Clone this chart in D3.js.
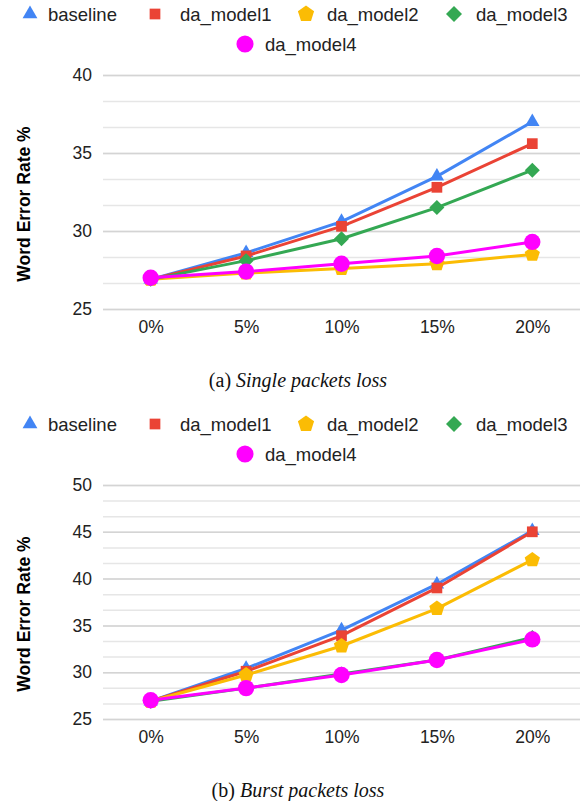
<!DOCTYPE html>
<html>
<head>
<meta charset="utf-8">
<script src="https://cdn.jsdelivr.net/npm/d3@7"></script>
<style>
  body { margin: 0; background: white; }
  text { font-family: "Liberation Sans", Arial, sans-serif; }
</style>
</head>
<body>
<div id="canvas"></div>
<script>
"use strict"

// DATA
let lossLevels = ["0%", "5%", "10%", "15%", "20%"];
let seriesNames = ["baseline", "da_model1", "da_model2", "da_model3", "da_model4"];

// (a) single packets loss
let singleBaseline = [26.9, 28.6, 30.6, 33.5, 37.0];
let singleModel1 = [26.9, 28.4, 30.3, 32.8, 35.6];
let singleModel2 = [26.9, 27.3, 27.6, 27.9, 28.5];
let singleModel3 = [26.9, 28.1, 29.5, 31.5, 33.9];
let singleModel4 = [27.0, 27.4, 27.9, 28.4, 29.3];

// (b) burst packets loss
let burstBaseline = [26.9, 30.4, 34.5, 39.4, 45.1];
let burstModel1 = [26.9, 30.1, 33.9, 39.0, 45.0];
let burstModel2 = [26.9, 29.7, 32.8, 36.8, 42.0];
let burstModel3 = [26.9, 28.3, 29.8, 31.3, 33.7];
let burstModel4 = [27.0, 28.3, 29.7, 31.3, 33.5];

let singleTicks = [25, 30, 35, 40];
let burstTicks = [25, 30, 35, 40, 45, 50];

/* Configuration variables: drawing */
let svgWidth = 586;
let svgHeight = 801;

let plotLeft = 103;
let plotRight = 580;

let colors = ["#4285f4", "#ea4335", "#fbbc04", "#34a853", "#ff00ff"];

let svg = d3.select("#canvas")
  .append("svg")
  .attr("width", svgWidth)
  .attr("height", svgHeight);

// pentagon path (d3 has no pentagon symbol)
function pentagon(r) {
  let pts = [];
  for (let i = 0; i < 5; i++) {
    let a = -Math.PI / 2 + i * 2 * Math.PI / 5;
    pts.push([r * Math.cos(a), r * Math.sin(a)]);
  }
  return "M" + pts.join("L") + "Z";
}

// square turned 45 degrees
function diamond(r) {
  return "M0," + (-r) + "L" + r + ",0L0," + r + "L" + (-r) + ",0Z";
}

function markerPath(i) {
  if (i == 0) return d3.symbol(d3.symbolTriangle, 90)();
  if (i == 1) return d3.symbol(d3.symbolSquare, 115)();
  if (i == 2) return pentagon(8);
  if (i == 3) return diamond(7.5);
  return d3.symbol(d3.symbolCircle, 210)();
}

function legendPath(i) {
  if (i == 0) return d3.symbol(d3.symbolTriangle, 95)();
  if (i == 1) return d3.symbol(d3.symbolSquare, 115)();
  if (i == 2) return pentagon(8.5);
  if (i == 3) return diamond(8);
  return d3.symbol(d3.symbolCircle, 230)();
}

function drawPanel(p) {
  let g = svg.append("g");

  let xScale = d3.scalePoint()
    .domain(lossLevels)
    .range([plotLeft, plotRight])
    .padding(0.5);

  let yMin = p.ticks[0];
  let yMax = p.ticks[p.ticks.length - 1];
  let yScale = d3.scaleLinear()
    .domain([yMin, yMax])
    .range([p.bottom, p.top]);

  // minor gridlines (two between each labelled tick)
  let minor = [];
  for (let v = yMin; v < yMax + 0.01; v += 5 / 3) minor.push(v);

  g.append("g")
    .attr("transform", "translate(" + plotLeft + ",0)")
    .call(d3.axisLeft(yScale).tickValues(minor).tickSize(-(plotRight - plotLeft)).tickFormat(""))
    .call(function (a) { a.select(".domain").remove(); })
    .selectAll("line")
    .attr("stroke", "#e6e6e6")
    .attr("stroke-width", 1.5);

  // major gridlines + labels
  let yAxis = g.append("g")
    .attr("transform", "translate(" + plotLeft + ",0)")
    .call(d3.axisLeft(yScale).tickValues(p.ticks).tickSize(-(plotRight - plotLeft)).tickPadding(11));
  yAxis.select(".domain").remove();
  yAxis.selectAll("line")
    .attr("stroke", "#d4d4d4")
    .attr("stroke-width", 1.5);
  yAxis.selectAll("text")
    .style("font-family", "Liberation Sans, Arial, sans-serif")
    .style("font-size", "17.5px")
    .attr("fill", "#222");

  let xAxis = g.append("g")
    .attr("transform", "translate(0," + p.bottom + ")")
    .call(d3.axisBottom(xScale).tickSize(0).tickPadding(12));
  xAxis.select(".domain").remove();
  xAxis.selectAll("text")
    .style("font-family", "Liberation Sans, Arial, sans-serif")
    .style("font-size", "17.5px")
    .attr("fill", "#222");

  // y axis title
  g.append("text")
    .attr("transform", "translate(25," + ((p.top + p.bottom) / 2 + 12) + ") rotate(-90)")
    .attr("text-anchor", "middle")
    .attr("dominant-baseline", "middle")
    .style("font-size", "17.5px")
    .style("font-weight", "bold")
    .text("Word Error Rate %");

  // lines and markers
  let line = d3.line()
    .x(function (d, i) { return xScale(lossLevels[i]) })
    .y(function (d) { return yScale(d) });

  for (let s = 0; s < p.series.length; s++) {
    g.append("path")
      .datum(p.series[s])
      .attr("fill", "none")
      .attr("stroke", colors[s])
      .attr("stroke-width", 3)
      .attr("stroke-linejoin", "round")
      .attr("d", line);

    g.selectAll(".m" + s)
      .data(p.series[s])
      .join("path")
      .attr("class", "m" + s)
      .attr("fill", colors[s])
      .attr("transform", function (d, i) {
        return "translate(" + xScale(lossLevels[i]) + "," + yScale(d) + ")"
      })
      .attr("d", markerPath(s));
  }

  // legend
  let legendSymX = [30, 155, 306, 454, 245];
  let legendTextX = [48, 180, 327, 476, 265];
  for (let s = 0; s < seriesNames.length; s++) {
    let ly = s < 4 ? p.legendY : p.legendY + 30;
    g.append("path")
      .attr("fill", colors[s])
      .attr("transform", "translate(" + legendSymX[s] + "," + ly + ")")
      .attr("d", legendPath(s));
    g.append("text")
      .attr("x", legendTextX[s])
      .attr("y", ly)
      .attr("dominant-baseline", "central")
      .style("font-size", "18.5px")
      .attr("fill", "#222")
      .text(seriesNames[s]);
  }

  // caption
  let cap = g.append("text")
    .attr("x", 298)
    .attr("y", p.captionY)
    .attr("text-anchor", "middle")
    .attr("dominant-baseline", "central")
    .style("font-family", "Liberation Serif, Times New Roman, serif")
    .style("font-size", "20px")
    .attr("fill", "#111");
  cap.append("tspan").text(p.captionTag + " ");
  cap.append("tspan").style("font-style", "italic").text(p.captionText);
}

drawPanel({
  series: [singleBaseline, singleModel1, singleModel2, singleModel3, singleModel4],
  ticks: singleTicks,
  top: 75,
  bottom: 309,
  legendY: 14,
  captionY: 380,
  captionTag: "(a)",
  captionText: "Single packets loss"
});

drawPanel({
  series: [burstBaseline, burstModel1, burstModel2, burstModel3, burstModel4],
  ticks: burstTicks,
  top: 485,
  bottom: 719,
  legendY: 424,
  captionY: 790,
  captionTag: "(b)",
  captionText: "Burst packets loss"
});
</script>
</body>
</html>
